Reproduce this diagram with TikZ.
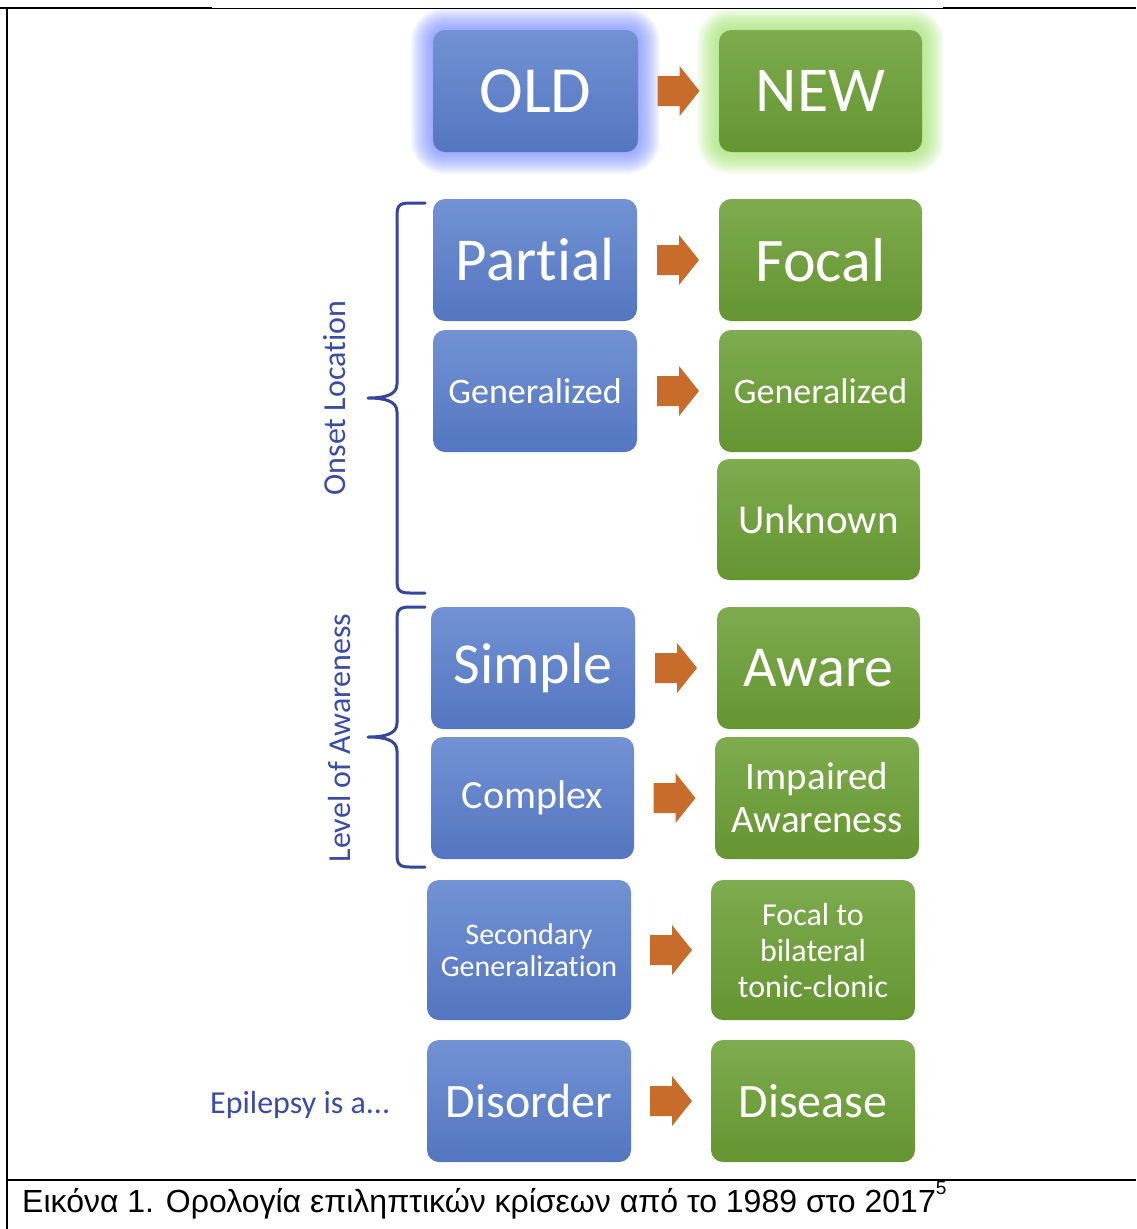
\documentclass[tikz,border=0pt]{standalone}
\usepackage{fontspec}
\setmainfont[Ligatures={NoCommon}]{Carlito}
\newfontfamily\capfont{Liberation Sans}
\usetikzlibrary{backgrounds,calc}
\definecolor{oldtop}{RGB}{114,146,212}
\definecolor{oldbot}{RGB}{84,118,192}
\definecolor{newtop}{RGB}{126,172,78}
\definecolor{newbot}{RGB}{101,148,49}
\definecolor{arrowc}{RGB}{200,108,44}
\definecolor{bracec}{RGB}{52,70,160}
\definecolor{labelc}{RGB}{58,76,168}
\definecolor{glowblue}{RGB}{110,135,255}
\definecolor{glowgreen}{RGB}{170,235,120}
\newcommand\fs[2]{\fontsize{#1}{#2}\selectfont}
\tikzset{
  box/.style={rounded corners=12pt, minimum width=204pt, minimum height=122pt,
    inner sep=0pt, text=white, align=center},
  obox/.style={box, top color=oldtop, bottom color=oldbot},
  nbox/.style={box, top color=newtop, bottom color=newbot},
  arr/.style={fill=arrowc},
  brace/.style={draw=bracec, line width=3pt, line cap=round, line join=round},
  sidelabel/.style={text=labelc, inner sep=0pt},
  frameline/.style={draw=black, line width=2pt},
}
\newcommand\orarrow[2]{%
  \path ($(#1.east)!0.5!(#2.west)$) coordinate (m-#1);
  \fill[arr, shift={(m-#1)}] (-21,-15) -- (1,-15) -- (1,-25) -- (21,0) -- (1,25) -- (1,15) -- (-21,15) -- cycle;}
\begin{document}
\begin{tikzpicture}[x=1pt,y=-1pt]
\useasboundingbox (0,0) rectangle (1136,1229);
\begin{scope}[on background layer]
  \fill[white] (0,0) rectangle (1136,1229);
\end{scope}
% frame
\draw[frameline] (0,8) -- (212,8);
\draw[black, line width=1pt] (212,8) -- (943,8);
\draw[frameline] (943,8) -- (1136,8);
\draw[frameline] (7,8) -- (7,1229);
\draw[frameline] (7,1180) -- (1136,1180);

% boxes
\node[obox, minimum width=205pt, font=\fs{66}{70}] (old) at (535.5,91) {OLD};
\node[nbox, minimum width=203pt, font=\fs{64}{70}] (new) at (820.5,91) {NEW};
\node[obox, font=\fs{61}{70}] (partial) at (535,260) {Partial};
\node[nbox, minimum width=203pt, font=\fs{62}{70}] (focal) at (820.5,260) {Focal};
\node[obox, font=\fs{36}{40}] (genold) at (535,391) {Generalized};
\node[nbox, minimum width=203pt, font=\fs{36}{40}] (gennew) at (820.5,391) {Generalized};
\node[nbox, minimum width=203pt, minimum height=121pt, font=\fs{41}{45}] (unknown) at (818.5,519.5) {Unknown};
\node[obox, font=\fs{58}{64}] (simple) at (533,668) {Simple};
\node[nbox, minimum width=203pt, font=\fs{58}{64}] (aware) at (818.5,668) {Aware};
\node[obox, minimum width=203pt, font=\fs{40}{44}] (complex) at (532.5,798) {Complex};
\node[nbox, font=\fs{39}{43}] (impaired) at (817,798) {Impaired\\Awareness};
\node[obox, minimum height=140pt, font=\fs{30}{32}] (secondary) at (529,950) {Secondary\\Generalization};
\node[nbox, minimum height=140pt, font=\fs{32}{36}] (focalbil) at (813,950) {Focal to\\bilateral\\tonic-clonic};
\node[obox, font=\fs{48}{52}] (disorder) at (529,1101) {Disorder};
\node[nbox, font=\fs{48}{52}] (disease) at (813,1101) {Disease};

% glows
\begin{scope}[on background layer]
\foreach \i in {1,...,22}{
  \fill[glowblue, opacity=0.045, rounded corners=12+\i]
    ($(old.south west)+(-\i,\i)$) rectangle ($(old.north east)+(\i,-\i)$);
  \fill[glowgreen, opacity=0.055, rounded corners=12+\i]
    ($(new.south west)+(-\i,\i)$) rectangle ($(new.north east)+(\i,-\i)$);
}
\end{scope}

% arrows
\orarrow{old}{new}
\orarrow{partial}{focal}
\orarrow{genold}{gennew}
\orarrow{simple}{aware}
\orarrow{complex}{impaired}
\orarrow{secondary}{focalbil}
\orarrow{disorder}{disease}

% braces
\coordinate (b1top) at (425,203);
\coordinate (b1tip) at (368,398);
\coordinate (b1bot) at (425,593);
\draw[brace] (b1top) -- (410,203) .. controls (399,203) and (397,206) .. (397,216)
  -- (397,384) .. controls (397,395) and (385,398) .. (b1tip)
  .. controls (385,398) and (397,401) .. (397,412)
  -- (397,580) .. controls (397,590) and (399,593) .. (410,593) -- (b1bot);
\coordinate (b2top) at (425,607);
\coordinate (b2tip) at (368,737);
\coordinate (b2bot) at (425,867);
\draw[brace] (b2top) -- (410,607) .. controls (399,607) and (397,610) .. (397,620)
  -- (397,723) .. controls (397,734) and (385,737) .. (b2tip)
  .. controls (385,737) and (397,740) .. (397,751)
  -- (397,854) .. controls (397,864) and (399,867) .. (410,867) -- (b2bot);

\node[sidelabel, rotate=90, font=\fs{32}{36}] (onset) at (335,398) {Onset Location};
\node[sidelabel, rotate=90, font=\fs{32}{36}] (level) at (340,738) {Level of Awareness};
\node[sidelabel, anchor=base west, font=\fs{32}{36}] (epi) at (210,1113) {Epilepsy is a...};

% caption
\node[anchor=base west, inner sep=0pt, font=\capfont\fs{32}{36}] (cap) at (22,1212)
  {Εικόνα 1. Ορολογία επιληπτικών κρίσεων από το 1989 στο 2017\raisebox{0.55em}{\fs{19}{20}5}};
\end{tikzpicture}
\end{document}
